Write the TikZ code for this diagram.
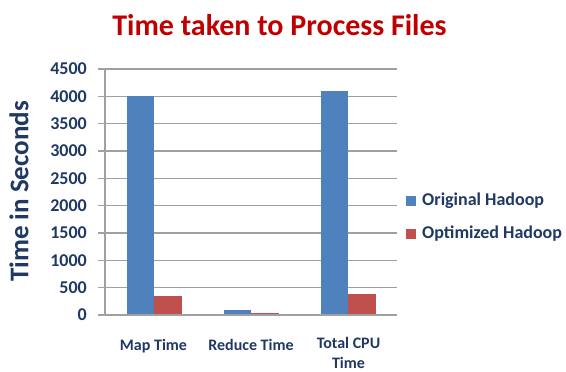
\documentclass[tikz,border=0pt]{standalone}
\usepackage{fontspec}
\setmainfont{Carlito}
\definecolor{navy}{RGB}{31,56,100}
\definecolor{titlered}{RGB}{192,0,0}
\definecolor{barblue}{RGB}{79,129,189}
\definecolor{barred}{RGB}{192,80,77}
\definecolor{gridgray}{RGB}{160,160,160}
\begin{document}
\begin{tikzpicture}[x=1pt,y=-1pt,
  lbl/.style={inner sep=0pt,text=navy,font=\bfseries\fontsize{18}{21}\selectfont},
  cat/.style={inner sep=0pt,text=navy,align=center,font=\bfseries\fontsize{16}{20}\selectfont},
  grid/.style={draw=gridgray,line width=1.2pt},
  blue/.style={fill=barblue,draw=none},
  redbar/.style={fill=barred,draw=none}]
\useasboundingbox (0,0) rectangle (566,372);
\fill[white] (0,0) rectangle (566,372);
% title
\node[inner sep=0pt,text=titlered,font=\bfseries\fontsize{30}{34}\selectfont] (title) at (279.5,25) {Time taken to Process Files};
% axis title
\node[inner sep=0pt,text=navy,rotate=90,font=\bfseries\fontsize{27}{30}\selectfont] (ytitle) at (19,191.5) {Time in Seconds};
% gridlines and y labels
\foreach \v [count=\i from 0] in {0,500,1000,1500,2000,2500,3000,3500,4000,4500}{
  \coordinate (gl\i) at (98,315-27.333*\i);
  \coordinate (gr\i) at (397,315-27.333*\i);
  \draw[grid] (gl\i) -- (gr\i);
  \node[lbl,anchor=east] (yl\i) at (87,315-27.333*\i) {\v};
}
\coordinate (axtop) at (105,69);
\coordinate (axbot) at (105,315);
\draw[grid] (axtop) -- (axbot);
% bars: value -> y = 315 - v*246/4500
\def\h#1{315-#1*0.054667}
\fill[blue] (126.5,315) rectangle (154,{\h{4000}});
\fill[redbar] (154,315) rectangle (181.5,{\h{350}});
\fill[blue] (223.5,315) rectangle (251,{\h{100}});
\fill[redbar] (251,315) rectangle (278.5,{\h{30}});
\fill[blue] (320.5,315) rectangle (348,{\h{4100}});
\fill[redbar] (348,315) rectangle (375.5,{\h{380}});
\draw[grid] (gl0) -- (gr0);
% category labels
\node[cat,anchor=base] (c1) at (153.5,350) {Map Time};
\node[cat,anchor=base] (c2) at (251,350) {Reduce Time};
\node[cat,anchor=north] (c3) at (348.5,337.5) {Total CPU\\Time};
% legend
\fill[barblue] (406,195.5) rectangle (416,205.5);
\fill[barred] (406,228.5) rectangle (416,238.5);
\node[lbl,anchor=west] (leg1) at (422,200.5) {Original Hadoop};
\node[lbl,anchor=west] (leg2) at (422,233.5) {Optimized Hadoop};
\end{tikzpicture}
\end{document}
